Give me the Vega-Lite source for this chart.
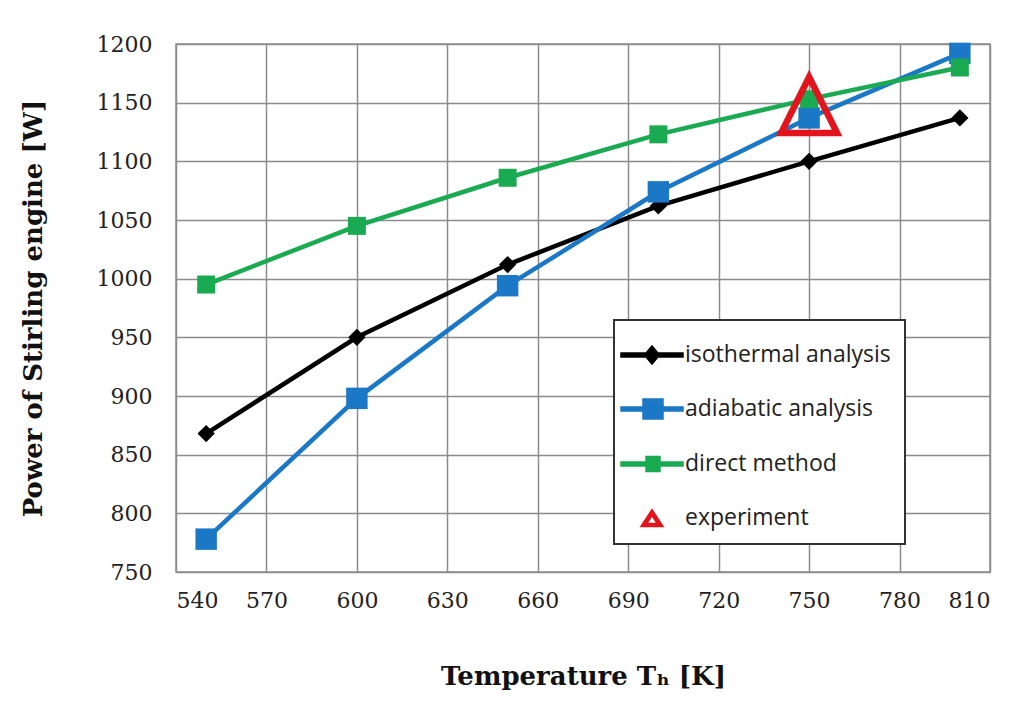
{
  "$schema": "https://vega.github.io/schema/vega-lite/v6.json",
  "width": 814,
  "height": 528,
  "autosize": {"type": "none"},
  "padding": {"left": 176, "top": 44, "right": 37, "bottom": 138},
  "background": "white",
  "config": {
    "view": {"stroke": "#8c8c8c", "strokeWidth": 1.5},
    "axis": {
      "grid": true, "gridColor": "#8c8c8c", "gridWidth": 1.5, "gridOpacity": 1,
      "domain": false, "ticks": false, "tickSize": 0,
      "labelFont": "DejaVu Serif", "labelFontSize": 22, "labelColor": "#222",
      "titleFont": "DejaVu Serif", "titleFontSize": 26, "titleFontWeight": "bold", "titleColor": "#111"
    }
  },
  "data": {
    "values": [
      {"series": "isothermal analysis", "T": 550, "P": 868},
      {"series": "isothermal analysis", "T": 600, "P": 950},
      {"series": "isothermal analysis", "T": 650, "P": 1012},
      {"series": "isothermal analysis", "T": 700, "P": 1062},
      {"series": "isothermal analysis", "T": 750, "P": 1100},
      {"series": "isothermal analysis", "T": 800, "P": 1137},
      {"series": "adiabatic analysis", "T": 550, "P": 778},
      {"series": "adiabatic analysis", "T": 600, "P": 898},
      {"series": "adiabatic analysis", "T": 650, "P": 994},
      {"series": "adiabatic analysis", "T": 700, "P": 1074},
      {"series": "adiabatic analysis", "T": 750, "P": 1137},
      {"series": "adiabatic analysis", "T": 800, "P": 1192},
      {"series": "direct method", "T": 550, "P": 995},
      {"series": "direct method", "T": 600, "P": 1045},
      {"series": "direct method", "T": 650, "P": 1086},
      {"series": "direct method", "T": 700, "P": 1123},
      {"series": "direct method", "T": 750, "P": 1153},
      {"series": "direct method", "T": 800, "P": 1180},
      {"series": "experiment", "T": 750, "P": 1148}
    ]
  },
  "encoding": {
    "x": {
      "field": "T", "type": "quantitative",
      "scale": {"domain": [540, 810], "nice": false, "zero": false},
      "axis": {"values": [540, 570, 600, 630, 660, 690, 720, 750, 780, 810], "format": "d", "labelPadding": 18, "title": "Temperature Tₕ [K]", "titlePadding": 52}
    },
    "y": {
      "field": "P", "type": "quantitative",
      "scale": {"domain": [750, 1200], "nice": false, "zero": false},
      "axis": {"values": [750, 800, 850, 900, 950, 1000, 1050, 1100, 1150, 1200], "format": "d", "labelPadding": 24, "title": "Power of Stirling engine [W]", "titlePadding": 50}
    },
    "color": {
      "field": "series", "type": "nominal",
      "scale": {
        "domain": ["isothermal analysis", "adiabatic analysis", "direct method", "experiment"],
        "range": ["#000000", "#1a78c6", "#1aab52", "#e2141c"]
      },
      "legend": {
        "orient": "none", "legendX": 438, "legendY": 276,
        "title": null,
        "strokeColor": "#333333", "fillColor": "white",
        "padding": 14,
        "symbolSize": 1600, "rowPadding": 21, "labelOffset": 15,
        "labelFont": "Open Sans", "labelFontSize": 23, "labelColor": "#222",
        "labelLimit": 400,
        "symbolType": "M-1.4,-0.1H1.7V0.1H-1.4Z",
        "encode": {
          "legend": {"update": {"strokeWidth": {"value": 2}}},
          "symbols": {
            "update": {
              "shape": {"signal": "datum.value === 'isothermal analysis' ? 'M-1.4,-0.1H1.7V0.1H-1.4Z M0.15,-0.45L0.53,0L0.15,0.45L-0.23,0Z' : datum.value === 'adiabatic analysis' ? 'M-1.4,-0.1H1.7V0.1H-1.4Z M-0.3,-0.5H0.7V0.5H-0.3Z' : datum.value === 'direct method' ? 'M-1.4,-0.1H1.7V0.1H-1.4Z M-0.15,-0.38H0.55V0.38H-0.15Z' : 'M-0.4,0.42L0.15,-0.42L0.7,0.42Z M-0.1,0.27L0.4,0.27L0.15,-0.12Z'"},
              "fill": {"signal": "scale('color', datum.value)"},
              "stroke": {"value": "transparent"},
              "opacity": {"value": 1}
            }
          }
        }
      }
    }
  },
  "layer": [
    {
      "transform": [{"filter": "datum.series !== 'experiment'"}],
      "mark": {"type": "line", "strokeWidth": 4.5}
    },
    {
      "transform": [{"filter": "datum.series === 'isothermal analysis'"}],
      "mark": {"type": "point", "shape": "diamond", "filled": true, "size": 300, "opacity": 1},
      "encoding": {"color": {"field": "series", "type": "nominal", "legend": null}}
    },
    {
      "transform": [{"filter": "datum.series === 'adiabatic analysis'"}],
      "mark": {"type": "point", "shape": "square", "filled": true, "size": 460, "opacity": 1},
      "encoding": {"color": {"field": "series", "type": "nominal", "legend": null}}
    },
    {
      "transform": [{"filter": "datum.series === 'direct method'"}],
      "mark": {"type": "point", "shape": "square", "filled": true, "size": 324, "opacity": 1},
      "encoding": {"color": {"field": "series", "type": "nominal", "legend": null}}
    },
    {
      "transform": [{"filter": "datum.series === 'experiment'"}],
      "mark": {"type": "point", "shape": "M0,-1L1,1L-1,1Z", "filled": false, "size": 3136, "strokeWidth": 6.5, "opacity": 1, "strokeJoin": "miter"},
      "encoding": {"color": {"field": "series", "type": "nominal", "legend": null}}
    }
  ]
}
